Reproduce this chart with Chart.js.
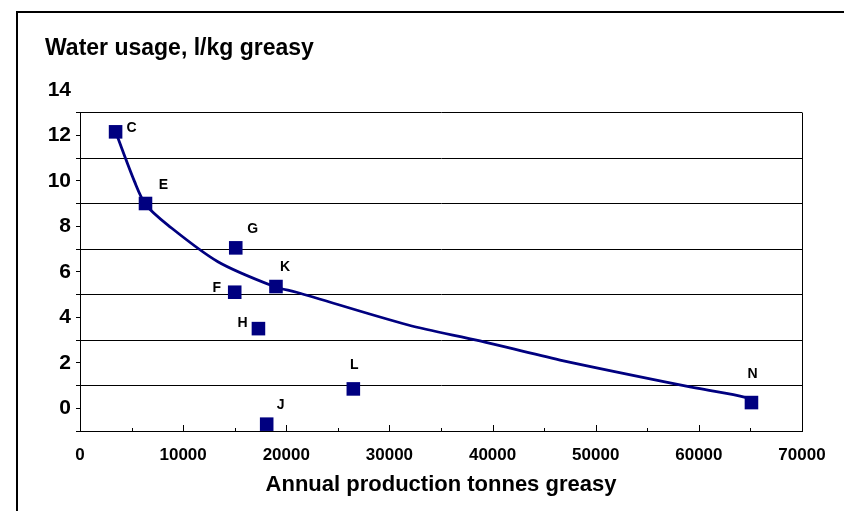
<!DOCTYPE html>
<html>
<head>
<meta charset="utf-8">
<script src="https://cdn.jsdelivr.net/npm/chart.js@4.4.1/dist/chart.umd.min.js"></script>
<style>
  html, body { margin: 0; padding: 0; background: #fff; }
</style>
</head>
<body>
<canvas id="water-chart" width="844" height="511"></canvas>
<script>
// Mills (scatter points)
const mills = ['C', 'E', 'G', 'F', 'K', 'H', 'J', 'L', 'N'];
const production = [3450, 6350, 15100, 15000, 19000, 17300, 18100, 26500, 65100];
const waterUsage = [12.15, 9.0, 7.05, 5.1, 5.35, 3.5, -0.7, 0.85, 0.25];

// Trend curve
const trendX = [3450, 5290, 6360, 8520, 13370, 18880, 20980, 31820, 38780, 46540, 59810, 64500, 65100];
const trendY = [12.15, 9.96, 8.96, 8.05, 6.44, 5.34, 5.1, 3.66, 2.96, 2.12, 0.88, 0.48, 0.25];

// Axis labels
const yTickLabels = [0, 2, 4, 6, 8, 10, 12, 14];
const xTickLabels = [0, 10000, 20000, 30000, 40000, 50000, 60000, 70000];

const FONT = "'Liberation Sans', Arial, sans-serif";
const NAVY = '#000080';

// where each letter sits relative to its square
const labelOffset = {
  C: [16, -4], E: [18, -18], G: [17, -19], K: [9, -19], F: [-18, -4],
  H: [-16, -5], J: [14, -19], L: [1, -24], N: [1, -28]
};

Chart.defaults.font.family = FONT;
Chart.defaults.color = '#000';

const extras = {
  id: 'extras',
  afterDraw(chart) {
    const { ctx, chartArea: a, scales: { x, y } } = chart;
    ctx.save();

    // outer frame (top + left)
    ctx.strokeStyle = '#000';
    ctx.lineWidth = 2;
    ctx.beginPath();
    ctx.moveTo(17, 511);
    ctx.lineTo(17, 12);
    ctx.lineTo(844, 12);
    ctx.stroke();

    // inward tick marks on x axis
    ctx.lineWidth = 1;
    ctx.beginPath();
    x.ticks.forEach(t => {
      const px = Math.round(x.getPixelForValue(t.value)) + 0.5;
      const len = t.value % 10000 === 0 ? 6 : 3;
      ctx.moveTo(px, a.bottom);
      ctx.lineTo(px, a.bottom - len);
    });
    ctx.stroke();

    // y label sitting above the plot area
    ctx.fillStyle = '#000';
    ctx.font = 'bold 21px ' + FONT;
    ctx.textAlign = 'right';
    ctx.textBaseline = 'middle';
    yTickLabels.filter(v => v > y.max).forEach(v => {
      ctx.fillText(String(v), y.right - 9, y.getPixelForValue(v));
    });

    // y axis title, horizontal at top left
    ctx.font = 'bold 23px ' + FONT;
    ctx.textAlign = 'left';
    ctx.textBaseline = 'alphabetic';
    ctx.fillText('Water usage, l/kg greasy', 45, 55);

    // point letters
    ctx.font = 'bold 14px ' + FONT;
    ctx.textAlign = 'center';
    ctx.textBaseline = 'middle';
    chart.getDatasetMeta(0).data.forEach((pt, i) => {
      const o = labelOffset[mills[i]];
      ctx.fillText(mills[i], pt.x + o[0], pt.y + o[1]);
    });

    ctx.restore();
  }
};

new Chart(document.getElementById('water-chart'), {
  type: 'scatter',
  data: {
    datasets: [
      {
        label: 'Mills',
        data: production.map((v, i) => ({ x: v, y: waterUsage[i] })),
        pointStyle: 'rect',
        pointRadius: 9.6,
        pointHoverRadius: 9.6,
        backgroundColor: NAVY,
        borderColor: NAVY,
        borderWidth: 0,
        clip: false
      },
      {
        label: 'Trend',
        type: 'line',
        data: trendX.map((v, i) => ({ x: v, y: trendY[i] })),
        borderColor: NAVY,
        borderWidth: 2.8,
        pointRadius: 0,
        tension: 0.3,
        fill: false
      }
    ]
  },
  options: {
    responsive: false,
    animation: false,
    layout: { padding: { top: 112.5, left: 0, right: 42, bottom: 0 } },
    plugins: {
      legend: { display: false },
      tooltip: { enabled: false }
    },
    scales: {
      x: {
        type: 'linear',
        min: 0,
        max: 70000,
        afterBuildTicks: s => {
          s.ticks = [];
          for (let v = s.min; v <= s.max; v += 5000) s.ticks.push({ value: v });
        },
        afterFit: s => { s.height = 80; },
        ticks: {
          autoSkip: false,
          maxRotation: 0,
          padding: 14,
          font: { size: 17, weight: 'bold' },
          callback: v => xTickLabels.includes(v) ? String(v) : ''
        },
        grid: {
          drawOnChartArea: true,
          color: c => c.tick && c.tick.value === 70000 ? '#000' : 'rgba(0,0,0,0)',
          tickLength: 0
        },
        border: { color: '#000', width: 1 },
        title: {
          display: true,
          text: 'Annual production tonnes greasy',
          font: { size: 22, weight: 'bold' },
          padding: 13
        }
      },
      y: {
        min: -1,
        max: 13,
        afterBuildTicks: s => {
          s.ticks = [];
          for (let v = s.min; v <= s.max; v += 1) s.ticks.push({ value: v });
        },
        afterFit: s => { s.width = 80; },
        ticks: {
          autoSkip: false,
          padding: 5,
          font: { size: 21, weight: 'bold' },
          callback: v => yTickLabels.includes(v) ? String(v) : ''
        },
        grid: {
          color: c => c.tick && Math.abs(c.tick.value % 2) === 1 ? '#000' : 'rgba(0,0,0,0)',
          tickColor: '#000',
          tickLength: 4
        },
        border: { color: '#000', width: 1 }
      }
    }
  },
  plugins: [extras]
});
</script>
</body>
</html>
